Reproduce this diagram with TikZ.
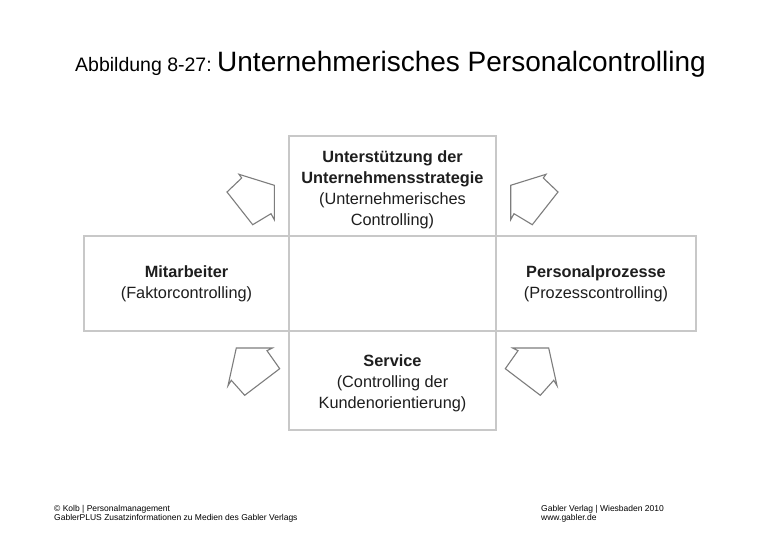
\documentclass[tikz,border=0pt]{standalone}
\usepackage{fontspec}
\setmainfont{Liberation Sans}
\definecolor{boxgray}{RGB}{200,200,200}
\definecolor{pentgray}{RGB}{125,125,125}
\definecolor{txt}{RGB}{30,30,30}
\newcommand{\boxfont}{\fontsize{16.3}{21}\selectfont}
\begin{document}
\begin{tikzpicture}[x=1pt,y=-1pt,
  cell/.style={draw=boxgray, line width=1.6pt, inner sep=0pt},
  ctext/.style={inner sep=0pt, align=center, font=\boxfont, text=txt},
  pent/.style={draw=pentgray, line width=1.1pt, line join=miter},
  lbl/.style={inner sep=0pt, anchor=base west, text=black},
  foot/.style={inner sep=0pt, anchor=base west, font=\fontsize{8.5}{9}\selectfont}
  ]
\useasboundingbox[fill=white] (0,0) rectangle (780,540);
% title
\node[lbl, font=\fontsize{19.5}{24}\selectfont] (t1) at (75,72) {Abbildung 8-27:};
\node[lbl, font=\fontsize{28}{32}\selectfont] (t2) at (217,72) {Unternehmerisches Personalcontrolling};
% boxes
\node[cell, minimum width=207pt, minimum height=100pt] (top) at (392.5,186) {};
\node[cell, minimum width=205pt, minimum height=95pt] (left) at (186.5,283.5) {};
\node[cell, minimum width=207pt, minimum height=95pt] (center) at (392.5,283.5) {};
\node[cell, minimum width=200pt, minimum height=95pt] (right) at (596,283.5) {};
\node[cell, minimum width=207pt, minimum height=99pt] (bottom) at (392.5,380.5) {};
% box texts
\node[ctext] (toptext) at (392.5,190)
  {\textbf{Unterstützung der}\\\textbf{Unternehmensstrategie}\\(Unternehmerisches\\Controlling)};
\node[ctext] (lefttext) at (186.5,284)
  {\textbf{Mitarbeiter}\\(Faktorcontrolling)};
\node[ctext] (righttext) at (596,284)
  {\textbf{Personalprozesse}\\(Prozesscontrolling)};
\node[ctext] (bottomtext) at (392.5,383)
  {\textbf{Service}\\(Controlling der\\Kundenorientierung)};
% pentagon arrows
\draw[pent] (510.7,185.3) -- (546,174.3) -- (543.3,178) -- (558,192) -- (532.3,224.7) -- (514,213.7) -- (510.7,219.7) -- cycle;
\draw[pent] (274.3,185.3) -- (239,174.3) -- (241.7,178) -- (227,192) -- (252.7,224.7) -- (271,213.7) -- (274.3,219.7) -- cycle;
\draw[pent] (512.7,348) -- (548.7,348) -- (557,385.7) -- (553.7,380.3) -- (540.3,395.3) -- (505.3,368.7) -- (518,350.7) -- cycle;
\draw[pent] (272.3,348) -- (236.3,348) -- (228,385.7) -- (231.3,380.3) -- (244.7,395.3) -- (279.7,368.7) -- (267,350.7) -- cycle;
% footer
\node[foot] (f1) at (54,511) {© Kolb | Personalmanagement};
\node[foot] (f2) at (54,520) {GablerPLUS Zusatzinformationen zu Medien des Gabler Verlags};
\node[foot] (f3) at (541,511) {Gabler Verlag | Wiesbaden 2010};
\node[foot] (f4) at (541,520) {www.gabler.de};
\end{tikzpicture}
\end{document}
